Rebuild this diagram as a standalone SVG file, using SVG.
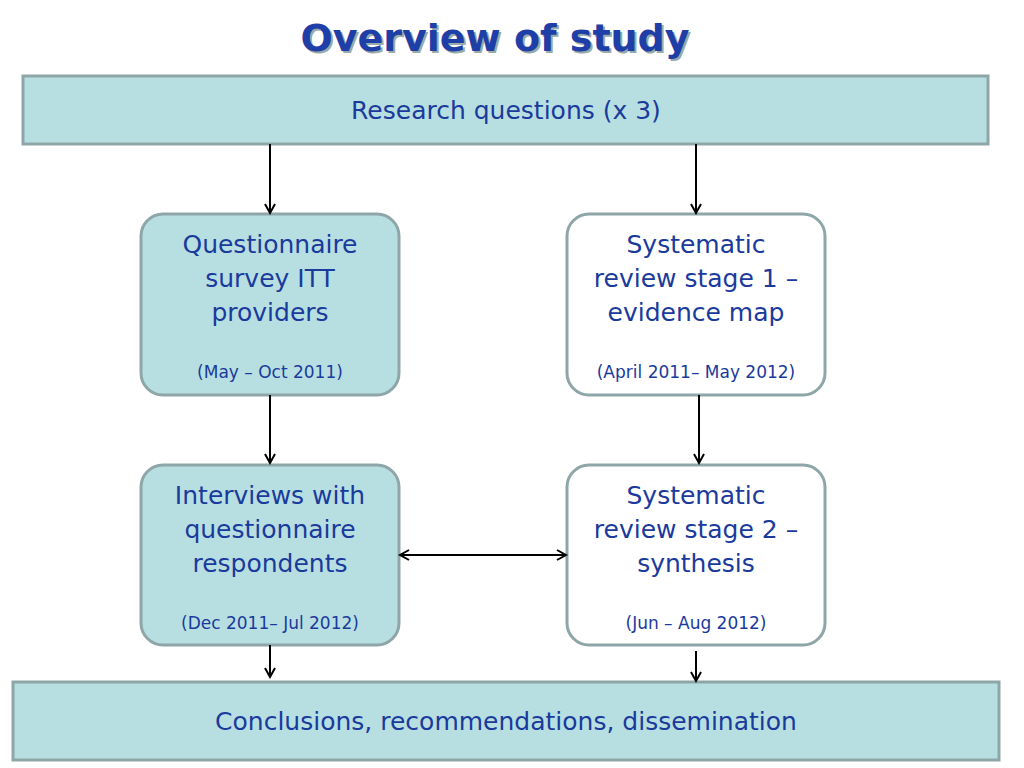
<svg xmlns="http://www.w3.org/2000/svg" width="1024" height="768" viewBox="0 0 1024 768">
<style>
.t{font-family:"DejaVu Sans",sans-serif;fill:#1a3a9c;text-anchor:middle}
.big{font-size:25px}.sm{font-size:17px}
.bar{fill:#b7dfe2;stroke:#8fa6a8;stroke-width:3}
.fill{fill:#b7dfe2;stroke:#8fa6a8;stroke-width:3}
.wht{fill:#ffffff;stroke:#8fa6a8;stroke-width:3}
.c{stroke:#000;stroke-width:2;fill:none;marker-end:url(#a)}
</style>
<defs><marker id="a" markerWidth="12" markerHeight="12" refX="10" refY="6" orient="auto-start-reverse" markerUnits="userSpaceOnUse"><path d="M1,1 L10,6 L1,11" fill="none" stroke="#000" stroke-width="2"/></marker></defs>
<rect width="1024" height="768" fill="#fff"/>
<text x="497" y="53" font-family="DejaVu Sans,sans-serif" font-weight="bold" font-size="38" fill="#9aa" text-anchor="middle">Overview of study</text>
<text x="495" y="51" font-family="DejaVu Sans,sans-serif" font-weight="bold" font-size="38" fill="#1f3fa8" text-anchor="middle">Overview of study</text>
<g id="rq"><rect class="bar" x="23" y="76" width="965" height="68"/><text class="t big" x="506" y="119">Research questions (x 3)</text></g>
<g id="q"><rect class="fill" x="141" y="214" width="258" height="181" rx="22"/><text class="t big" x="270" y="253">Questionnaire</text><text class="t big" x="270" y="287">survey ITT</text><text class="t big" x="270" y="321">providers</text><text class="t sm" x="270" y="378">(May – Oct 2011)</text></g>
<g id="s1"><rect class="wht" x="567" y="214" width="258" height="181" rx="22"/><text class="t big" x="696" y="253">Systematic</text><text class="t big" x="696" y="287">review stage 1 –</text><text class="t big" x="696" y="321">evidence map</text><text class="t sm" x="696" y="378">(April 2011– May 2012)</text></g>
<g id="i"><rect class="fill" x="141" y="465" width="258" height="180" rx="22"/><text class="t big" x="270" y="504">Interviews with</text><text class="t big" x="270" y="538">questionnaire</text><text class="t big" x="270" y="572">respondents</text><text class="t sm" x="270" y="629">(Dec 2011– Jul 2012)</text></g>
<g id="s2"><rect class="wht" x="567" y="465" width="258" height="180" rx="22"/><text class="t big" x="696" y="504">Systematic</text><text class="t big" x="696" y="538">review stage 2 –</text><text class="t big" x="696" y="572">synthesis</text><text class="t sm" x="696" y="629">(Jun – Aug 2012)</text></g>
<g id="c"><rect class="bar" x="13" y="682" width="986" height="78"/><text class="t big" x="506" y="730">Conclusions, recommendations, dissemination</text></g>
<g id="connectors">
<path class="c" d="M270,144 V213"/><path class="c" d="M696,144 V213"/>
<path class="c" d="M270,395 V463"/><path class="c" d="M699,395 V463"/>
<path class="c" d="M400,555 H566" marker-start="url(#a)"/>
<path class="c" d="M270,645 V677"/><path class="c" d="M696,651 V681"/>
</g>
</svg>
